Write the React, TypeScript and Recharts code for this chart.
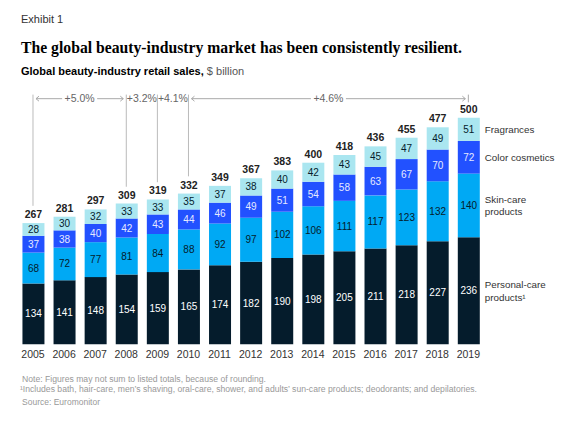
import React from "react";
import { BarChart, Bar, XAxis, YAxis, LabelList, ReferenceLine } from "recharts";

const years = ["2005", "2006", "2007", "2008", "2009", "2010", "2011", "2012", "2013", "2014", "2015", "2016", "2017", "2018", "2019"];
const personalCare = [134, 141, 148, 154, 159, 165, 174, 182, 190, 198, 205, 211, 218, 227, 236];
const skinCare = [68, 72, 77, 81, 84, 88, 92, 97, 102, 106, 111, 117, 123, 132, 140];
const colorCosmetics = [37, 38, 40, 42, 43, 44, 46, 49, 51, 54, 58, 63, 67, 70, 72];
const fragrances = [28, 30, 32, 33, 33, 35, 37, 38, 40, 42, 43, 45, 47, 49, 51];
const totals = [267, 281, 297, 309, 319, 332, 349, 367, 383, 400, 418, 436, 455, 477, 500];

// growth brackets over the bars (CAGR per period)
const periods = [
  { from: "2005", to: "2008", label: "+5.0%" },
  { from: "2008", to: "2009", label: "+3.2%" },
  { from: "2009", to: "2010", label: "+4.1%" },
  { from: "2010", to: "2019", label: "+4.6%" },
];
const bracketYears = ["2005", "2008", "2009", "2010"];

const data = years.map((year, i) => ({
  year,
  personal: personalCare[i],
  skin: skinCare[i],
  color: colorCosmetics[i],
  frag: fragrances[i],
  total: totals[i],
}));

const SANS = "'Liberation Sans', Arial, sans-serif";
const NAVY = "#051c2c";
const BRACKET_Y = 541;
const BRACKET_TOP = 550;

const bracketLabel = (text: string) => (props: any) => {
  const vb = props.viewBox || {};
  const x1 = vb.x;
  const x2 = vb.x + vb.width;
  const y = vb.y;
  const cx = (x1 + x2) / 2;
  const tw = text.length * 5.8;
  const a = x1 + 3;
  const b = x2 - 3;
  const l1 = cx - tw / 2 - 3;
  const l2 = cx + tw / 2 + 3;
  return (
    <g>
      {l1 - a > 4 && (
        <g stroke="#aaa" strokeWidth={1} fill="none">
          <line x1={a} y1={y} x2={l1} y2={y} />
          <polyline points={`${a + 3},${y - 2.5} ${a},${y} ${a + 3},${y + 2.5}`} />
          <line x1={l2} y1={y} x2={b} y2={y} />
          <polyline points={`${b - 3},${y - 2.5} ${b},${y} ${b - 3},${y + 2.5}`} />
        </g>
      )}
      <text x={cx} y={y} dy={3.7} textAnchor="middle" fontSize={10.5} fill="#666" fontFamily={SANS}>
        {text}
      </text>
    </g>
  );
};

const legendLabel = (lines: string[]) => (props: any) => {
  if (props.index !== years.length - 1) return null;
  const vb = props.viewBox || {};
  const top = Math.min(vb.y, vb.y + vb.height);
  const h = Math.abs(vb.height);
  const x = vb.x + vb.width + 5;
  const cy = top + h / 2;
  const lh = 12.5;
  const start = cy - ((lines.length - 1) * lh) / 2;
  return (
    <text x={x} y={start} fontSize={9.8} fill="#333" fontFamily={SANS}>
      {lines.map((ln, i) => (
        <tspan key={i} x={x} dy={i === 0 ? 3.6 : lh}>
          {ln}
        </tspan>
      ))}
    </text>
  );
};

export default function App() {
  return (
    <div style={{ position: "relative", width: 567, height: 427, margin: -8, background: "#fff", fontFamily: SANS }}>
      <svg width={567} height={427} style={{ position: "absolute", left: 0, top: 0 }}>
        <text x={21} y={22.7} fontSize={11} fill="#333" fontFamily={SANS}>Exhibit 1</text>
        <text
          x={21}
          y={53.3}
          fontSize={16.5}
          fontWeight="bold"
          fill="#000"
          fontFamily="'Liberation Serif', Georgia, serif"
          textLength={441}
          lengthAdjust="spacingAndGlyphs"
        >
          The global beauty-industry market has been consistently resilient.
        </text>
        <text x={21} y={75.3} fontSize={11} fill="#000" fontFamily={SANS}>
          <tspan fontWeight="bold">Global beauty-industry retail sales,</tspan>
          <tspan fill="#555"> $ billion</tspan>
        </text>
        <g fontSize={8.3} fill="#999" fontFamily={SANS}>
          <text x={22} y={382} textLength={244} lengthAdjust="spacingAndGlyphs">
            Note: Figures may not sum to listed totals, because of rounding.
          </text>
          <text x={20} y={391.5} textLength={457} lengthAdjust="spacingAndGlyphs">
            ¹Includes bath, hair-care, men’s shaving, oral-care, shower, and adults’ sun-care products; deodorants; and depilatories.
          </text>
          <text x={22} y={405} textLength={78} lengthAdjust="spacingAndGlyphs">
            Source: Euromonitor
          </text>
        </g>
      </svg>
      <div style={{ position: "absolute", left: 0, top: 0 }}>
        <BarChart
          width={567}
          height={427}
          data={data}
          margin={{ top: 117.3, right: 83.1, bottom: 62.7, left: 17.45 }}
          barSize={22}
        >
          <XAxis
            dataKey="year"
            height={20}
            tickLine={false}
            axisLine={false}
            tickSize={0}
            tickMargin={6}
            interval={0}
            tick={{ fontSize: 10.5, fill: "#333", fontFamily: SANS }}
          />
          <YAxis hide domain={[0, 500]} />
          <Bar dataKey="personal" stackId="a" fill={NAVY} isAnimationActive={false}>
            <LabelList dataKey="personal" position="center" fill="#fff" fontSize={10} fontFamily={SANS} />
            <LabelList dataKey="personal" content={legendLabel(["Personal-care", "products¹"])} />
          </Bar>
          <Bar dataKey="skin" stackId="a" fill="#00a9f4" isAnimationActive={false}>
            <LabelList dataKey="skin" position="center" fill={NAVY} fontSize={10} fontFamily={SANS} />
            <LabelList dataKey="skin" content={legendLabel(["Skin-care", "products"])} />
          </Bar>
          <Bar dataKey="color" stackId="a" fill="#2251ff" isAnimationActive={false}>
            <LabelList dataKey="color" position="center" fill="#e6e9ff" fontSize={10} fontFamily={SANS} />
            <LabelList dataKey="color" content={legendLabel(["Color cosmetics"])} />
          </Bar>
          <Bar dataKey="frag" stackId="a" fill="#aae6f0" isAnimationActive={false}>
            <LabelList dataKey="frag" position="center" fill={NAVY} fontSize={10} fontFamily={SANS} />
            <LabelList dataKey="frag" content={legendLabel(["Fragrances"])} />
            <LabelList dataKey="total" position="top" offset={5} fill="#222" fontSize={10.5} fontWeight="bold" fontFamily={SANS} />
          </Bar>
          {bracketYears.map((y) => (
            <ReferenceLine
              key={y}
              ifOverflow="visible"
              stroke="#bbb"
              strokeWidth={1}
              segment={[
                { x: y, y: BRACKET_TOP },
                { x: y, y: totals[years.indexOf(y)] + 38 },
              ]}
            />
          ))}
          <ReferenceLine
            ifOverflow="visible"
            stroke="#aaa"
            strokeWidth={1}
            segment={[
              { x: "2019", y: BRACKET_TOP },
              { x: "2019", y: BRACKET_Y - 8 },
            ]}
          />
          {periods.map((p) => (
            <ReferenceLine
              key={p.label}
              ifOverflow="visible"
              stroke="none"
              segment={[
                { x: p.from, y: BRACKET_Y },
                { x: p.to, y: BRACKET_Y },
              ]}
              label={bracketLabel(p.label)}
            />
          ))}
        </BarChart>
      </div>
    </div>
  );
}
